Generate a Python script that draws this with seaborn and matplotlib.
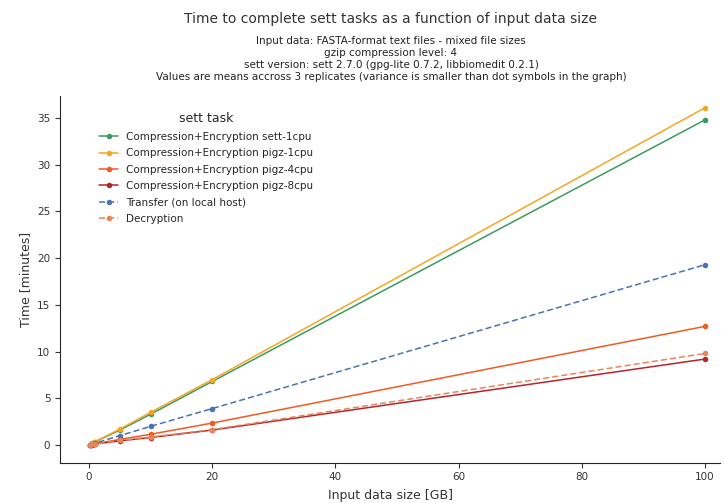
import matplotlib
matplotlib.use("Agg")
import matplotlib.pyplot as plt
import pandas as pd
import seaborn as sns

# Data (input size in GB, time in minutes)
sizes = [0.1, 0.5, 1, 5, 10, 20, 100]
tasks = [
    "Compression+Encryption sett-1cpu",
    "Compression+Encryption pigz-1cpu",
    "Compression+Encryption pigz-4cpu",
    "Compression+Encryption pigz-8cpu",
    "Transfer (on local host)",
    "Decryption",
]
sett_1cpu = [0.05, 0.18, 0.35, 1.6, 3.3, 6.8, 34.8]
pigz_1cpu = [0.05, 0.19, 0.37, 1.7, 3.5, 7.0, 36.1]
pigz_4cpu = [0.03, 0.07, 0.13, 0.6, 1.15, 2.35, 12.7]
pigz_8cpu = [0.02, 0.05, 0.1, 0.45, 0.8, 1.6, 9.2]
transfer = [0.03, 0.1, 0.2, 1.0, 2.0, 3.9, 19.3]
decryption = [0.02, 0.06, 0.1, 0.5, 0.85, 1.65, 9.8]

colors = ["#3c9a5f", "#f5a623", "#f05a24", "#b5262b", "#4c72b0", "#e8845a"]
dashed = [False, False, False, False, True, True]

rows = []
for task, vals in zip(tasks, [sett_1cpu, pigz_1cpu, pigz_4cpu, pigz_8cpu, transfer, decryption]):
    for s, v in zip(sizes, vals):
        rows.append({"task": task, "size": s, "time": v})
df = pd.DataFrame(rows)

sns.set_style("ticks")
plt.rcParams["font.family"] = "DejaVu Sans"

fig, ax = plt.subplots(figsize=(7.24, 5.03), dpi=100)
fig.subplots_adjust(left=0.083, right=0.995, top=0.81, bottom=0.08)

sns.lineplot(
    data=df, x="size", y="time", hue="task", style="task",
    palette=dict(zip(tasks, colors)),
    dashes={t: ((4, 2) if d else "") for t, d in zip(tasks, dashed)},
    markers={t: "o" for t in tasks},
    markersize=4, markeredgewidth=0, linewidth=1.1, ax=ax,
)
sns.despine(ax=ax)

ax.set_xlim(-4.7, 102.5)
ax.set_ylim(-1.9, 37.4)
ax.set_xticks([0, 20, 40, 60, 80, 100])
ax.set_yticks([0, 5, 10, 15, 20, 25, 30, 35])
ax.tick_params(labelsize=7.5, colors="#333333")
ax.set_xlabel("Input data size [GB]", fontsize=9, color="#333333", labelpad=5)
ax.set_ylabel("Time [minutes]", fontsize=9, color="#333333")

handles, labels = ax.get_legend_handles_labels()
ax.legend(handles, labels, title="sett task", frameon=False, fontsize=7.5,
          title_fontsize=9, loc="upper left", bbox_to_anchor=(0.045, 0.98),
          handlelength=1.8, labelspacing=0.62)

fig.text(0.54, 0.955, "Time to complete sett tasks as a function of input data size",
         ha="center", fontsize=10, color="#333333")
fig.text(0.54, 0.84,
         "Input data: FASTA-format text files - mixed file sizes\n"
         "gzip compression level: 4\n"
         "sett version: sett 2.7.0 (gpg-lite 0.7.2, libbiomedit 0.2.1)\n"
         "Values are means accross 3 replicates (variance is smaller than dot symbols in the graph)",
         ha="center", fontsize=7.5, color="#222222", linespacing=1.25)

fig.savefig("out.png", dpi=100)
